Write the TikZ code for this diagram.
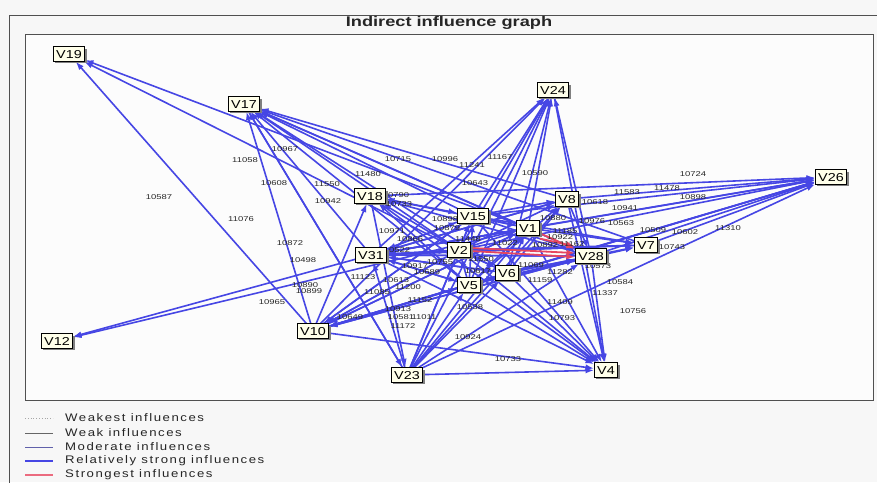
\documentclass[tikz,border=0pt]{standalone}
\usepackage{fontspec}
\setmainfont{Liberation Sans}
\newfontfamily\vfont[FakeStretch=1.25]{Liberation Sans}
\newfontfamily\lfont[FakeStretch=1.35]{Liberation Sans}
\newfontfamily\legfont[FakeStretch=1.2,LetterSpace=14]{Liberation Sans}
\newfontfamily\tfont[FakeStretch=1.3]{Liberation Sans}
\usetikzlibrary{arrows.meta,shadows}
\pgfdeclarelayer{bg}\pgfdeclarelayer{edges}\pgfdeclarelayer{labs}
\pgfsetlayers{bg,edges,labs,main}
\definecolor{edgeblue}{RGB}{70,70,228}
\definecolor{strongred}{RGB}{230,70,95}
\definecolor{boxfill}{RGB}{255,255,234}
\definecolor{pagebg}{RGB}{247,247,247}
\definecolor{framegray}{RGB}{80,80,80}
\definecolor{modblue}{RGB}{96,96,170}
\tikzset{
  vn/.style={draw=black, line width=0.8pt, fill=boxfill, font=\vfont\fontsize{11.5}{12}\selectfont,
    inner xsep=2.8pt, inner ysep=0pt, minimum height=14.5pt, text height=8.3pt, text depth=0pt,
    drop shadow={shadow xshift=2pt, shadow yshift=-2pt, fill=black!50, opacity=1}},
  eb/.style={draw=edgeblue, line width=1.6pt, -{Latex[length=8.5pt,width=6pt]}},
  er/.style={draw=strongred, line width=1.8pt, -{Latex[length=8.5pt,width=6pt]}},
  el/.style={font=\lfont\fontsize{7}{7}\selectfont, text=black!85, inner sep=0pt},
  legtxt/.style={font=\legfont\fontsize{11}{11}\selectfont, text=black!85, anchor=west, inner sep=0pt},
}
\begin{document}
\begin{tikzpicture}[x=1pt,y=-1pt]
\useasboundingbox (0,0) rectangle (877,482);
\begin{pgfonlayer}{bg}
\fill[pagebg] (0,0) rectangle (877,482);
\fill[white!60!pagebg] (25,34) rectangle (873,400);
\end{pgfonlayer}
\draw[framegray, line width=0.8pt] (9,495) -- (9,15) -- (890,15);
\draw[framegray, line width=0.9pt] (25,34) rectangle (873,400);
\node[font=\tfont\bfseries\fontsize{14}{14}\selectfont, text=black!85] (title) at (449,23) {Indirect influence graph};

% nodes
\node[vn] (V19) at (69,54) {V19};
\node[vn] (V17) at (244,104) {V17};
\node[vn] (V24) at (553,90) {V24};
\node[vn] (V26) at (831,177) {V26};
\node[vn] (V8) at (567,199) {V8};
\node[vn] (V18) at (370,196) {V18};
\node[vn] (V15) at (473,216) {V15};
\node[vn] (V1) at (528,228) {V1};
\node[vn] (V7) at (646,245) {V7};
\node[vn] (V28) at (591,256) {V28};
\node[vn] (V2) at (459,250) {V2};
\node[vn] (V31) at (371,255) {V31};
\node[vn] (V6) at (507,273) {V6};
\node[vn] (V5) at (469,285) {V5};
\node[vn] (V10) at (313,331) {V10};
\node[vn] (V12) at (57,341) {V12};
\node[vn] (V23) at (407,375) {V23};
\node[vn] (V4) at (606,370) {V4};

\begin{pgfonlayer}{edges}
\foreach \s/\t in {
  V10/V19, V2/V19, V1/V19,
  V10/V17, V23/V17, V31/V17, V2/V17, V15/V17, V1/V17, V28/V17, V8/V17, V5/V17, V6/V17, V7/V17,
  V10/V24, V23/V24, V31/V24, V2/V24, V15/V24, V1/V24, V5/V24, V6/V24, V28/V24,
  V8/V26, V1/V26, V28/V26, V7/V26, V2/V26, V6/V26, V5/V26, V15/V26, V23/V26, V31/V26, V10/V26, V18/V26,
  V31/V12, V1/V12,
  V23/V4, V10/V4, V5/V4, V6/V4, V28/V4, V1/V4, V8/V4, V24/V4, V2/V4, V31/V4, V18/V4, V15/V4,
  V2/V7, V1/V7, V6/V7, V5/V7, V31/V7, V15/V7,
  V6/V28, V5/V28, V31/V28, V23/V28, V10/V28, V15/V28, V8/V28,
  V28/V10, V1/V10, V2/V10, V6/V10, V5/V10, V15/V10,
  V10/V18, V2/V18, V28/V18, V1/V18, V5/V18,
  V1/V31, V28/V31, V2/V31, V6/V31, V5/V31, V15/V31, V8/V31, V7/V31, V23/V31,
  V23/V8, V5/V8, V6/V8, V31/V8, V2/V8, V15/V8,
  V2/V1, V6/V1, V5/V1, V31/V1, V23/V1, V10/V1, V15/V1,
  V5/V2, V6/V2, V31/V2, V23/V2, V10/V2,
  V23/V5, V10/V5, V31/V5,
  V23/V6, V10/V6, V31/V6, V2/V6,
  V31/V15, V2/V15, V5/V15, V23/V15, V10/V15, V18/V15,
  V17/V23, V18/V23}
  \draw[eb] (\s) -- (\t);
\draw[er] ([yshift=-1pt]V2.east) -- ([yshift=-1pt]V28.west);
\draw[er] ([yshift=2pt]V2.east) -- ([yshift=3pt]V28.west);
\draw[er] (V1) -- (V28);
\draw[er] ([yshift=-3pt]V1.south east) -- ([yshift=2pt]V28.north west);
\end{pgfonlayer}

\begin{pgfonlayer}{labs}
\foreach \p/\t in {
 {285,149}/10967, {245,160}/11058, {398,159}/10715, {368,174}/11480, {274,183}/10608,
 {327,184}/11550, {159,197}/10587, {328,201}/10942, {241,219}/11076, {392,231}/10971,
 {396,195}/10790, {399,204}/10733, {410,239}/10866, {445,219}/10898, {447,228}/10879,
 {445,159}/10996, {472,165}/11241, {500,157}/11167, {535,173}/10590, {475,183}/10643,
 {693,174}/10724, {627,192}/11583, {667,188}/11478, {693,197}/10898, {595,202}/10618,
 {625,208}/10941, {592,221}/10976, {621,223}/10563, {653,230}/10509, {685,232}/10602,
 {728,228}/11310, {672,247}/10743, {598,266}/10573, {560,272}/11282, {540,280}/11159,
 {620,282}/10584, {605,293}/11337, {560,302}/11409, {633,311}/10756, {562,318}/10793,
 {470,307}/10538, {468,337}/10924, {508,359}/10733, {290,243}/10872, {303,260}/10498,
 {363,277}/11123, {305,285}/10890, {309,291}/10899, {272,302}/10965, {350,317}/10649,
 {403,326}/11172, {401,317}/10581, {424,317}/11011, {408,287}/11200, {377,292}/11085,
 {398,309}/10913, {396,280}/10613, {420,300}/11152, {440,262}/10755, {427,272}/10689,
 {468,239}/11448, {481,259}/11550, {531,265}/11069, {505,243}/11022, {545,245}/10892,
 {560,237}/10922, {572,244}/11162, {553,218}/10880, {565,231}/11185, {415,266}/10917,
 {478,271}/10617, {397,250}/10522}
 \node[el] at (\p) {\t};
\end{pgfonlayer}

% legend
\draw[black!35, line width=0.8pt, dotted] (25,418) -- (53,418);
\draw[black!60, line width=0.8pt] (25,433) -- (53,433);
\draw[modblue, line width=0.8pt] (25,447) -- (53,447);
\draw[edgeblue, line width=1.8pt] (25,461) -- (53,461);
\draw[strongred!80, line width=1.8pt] (25,475) -- (53,475);
\node[legtxt] (l1) at (65,418) {Weakest influences};
\node[legtxt] (l2) at (65,433) {Weak influences};
\node[legtxt] (l3) at (65,447) {Moderate influences};
\node[legtxt] (l4) at (65,461) {Relatively strong influences};
\node[legtxt] (l5) at (65,475) {Strongest influences};
\end{tikzpicture}
\end{document}
